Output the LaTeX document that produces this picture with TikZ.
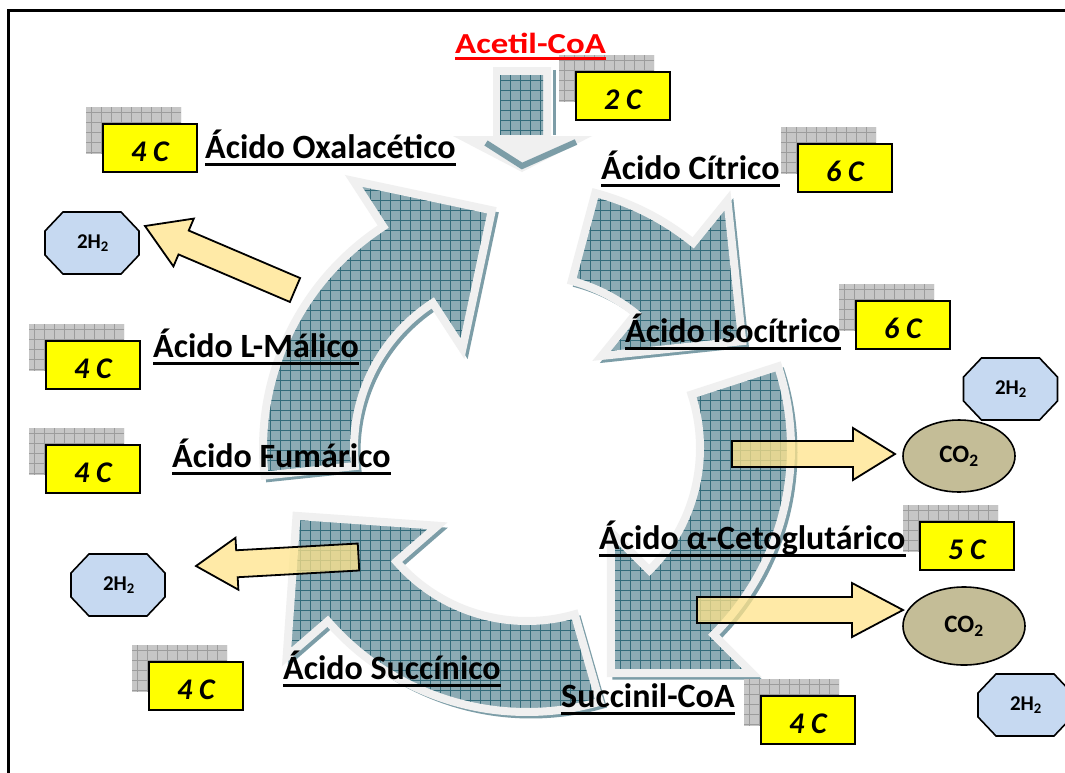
\documentclass[tikz,border=0pt]{standalone}
\usepackage{fontspec}
\setmainfont{Carlito}
\usepackage{graphicx}
\usetikzlibrary{calc,shapes.geometric}
\definecolor{tealbase}{HTML}{8DABB4}
\definecolor{tealline}{HTML}{336B7A}
\definecolor{tealshadow}{HTML}{7C9DA7}
\definecolor{rimgray}{HTML}{F0F0F0}
\definecolor{boxgray}{HTML}{C6C6C6}
\definecolor{boxline}{HTML}{9C9C9C}
\definecolor{octblue}{HTML}{C6D9F1}
\definecolor{coolive}{HTML}{C4BD97}
\definecolor{arrowyel}{HTML}{FFE48A}
\definecolor{acred}{HTML}{FF0000}
\definecolor{boxyel}{HTML}{FFFF00}
\newcommand\ccx{527}
\newcommand\ccy{448}
% circular arrow piece from angle #1 (tail) to #2 (head base), clockwise in picture
\newcommand\cycpath[2]{plot[domain=#1:#2,samples=60,variable=\t] ({\ccx+264*cos(\t)},{\ccy+264*sin(\t)}) -- ({\ccx+318.5*cos(#2)},{\ccy+318.5*sin(#2)}) -- ({\ccx+218.5*cos(#2)-100*sin(#2)},{\ccy+218.5*sin(#2)+100*cos(#2)}) -- ({\ccx+118.5*cos(#2)},{\ccy+118.5*sin(#2)}) -- ({\ccx+173*cos(#2)},{\ccy+173*sin(#2)}) -- plot[domain=#2:#1,samples=60,variable=\t] ({\ccx+173*cos(\t)},{\ccy+173*sin(\t)}) -- cycle}
\newcommand\tealgrid{\fill[tealbase] (200,60) rectangle (900,800);
  \foreach \g in {200,210,...,900} {\draw[gl] (\g,60) -- (\g,800);}
  \foreach \g in {60,70,...,800} {\draw[gl] (200,\g) -- (900,\g);}}
\newcommand\cycshadow[2]{\begin{scope}[shift={(4,4)}]
  \begin{scope}\clip \cycpath{#1}{#2}; \tealgrid \end{scope}
  \draw[shad] \cycpath{#1}{#2};\end{scope}}
\newcommand\cycmain[2]{\begin{scope}\clip \cycpath{#1}{#2}; \tealgrid \end{scope}
  \draw[rim] \cycpath{#1}{#2};}
\newcommand\graybox[2]{\begin{scope}\clip (#1,#2) rectangle ++(95,47);
  \fill[boxgray] (#1,#2) rectangle ++(95,47);
  \foreach \g in {5,15,...,95} {\draw[boxline,line width=0.8pt] ({#1+\g},#2) -- ++(0,47);}
  \foreach \g in {5,15,...,45} {\draw[boxline,line width=0.8pt] (#1,{#2+\g}) -- ++(95,0);}
  \end{scope}}
\newcommand\octa[2]{\filldraw[octa] ({#1+18},#2) -- ++(58,0) -- ++(18,19) -- ++(0,24) -- ++(-18,19) -- ++(-58,0) -- ++(-18,-19) -- ++(0,-24) -- cycle;}
\newcommand\blockarr[5]{\coordinate (bab) at ($(#2)!#3pt!(#1)$);
  \filldraw[yarr] ($(#1)!#4pt!90:(#2)$) -- ($(bab)!#4pt!90:(#2)$) -- ($(bab)!#5pt!90:(#2)$) -- (#2) -- ($(bab)!#5pt!-90:(#2)$) -- ($(bab)!#4pt!-90:(#2)$) -- ($(#1)!#4pt!-90:(#2)$) -- cycle;}
\begin{document}
\begin{tikzpicture}[x=1pt,y=-1pt,
  rim/.style={draw=rimgray, line width=8pt, line join=miter},
  shad/.style={draw=tealshadow, line width=5pt, line join=miter},
  gl/.style={draw=tealline, line width=0.9pt},
  yarr/.style={fill=arrowyel, fill opacity=0.75, draw=black, line width=1.8pt, line join=miter},
  octa/.style={fill=octblue, draw=black, line width=1.6pt},
  htxt/.style={font=\fontsize{21}{24}\selectfont\bfseries, inner sep=0pt},
  co2/.style={ellipse, fill=coolive, draw=black, line width=1.6pt, font=\fontsize{25}{28}\selectfont\bfseries, inner sep=0pt},
  ybox/.style={draw=black, line width=1.8pt, fill=boxyel, minimum width=94pt, minimum height=48pt, inner sep=0pt, text height=28pt, text depth=0pt, anchor=north west, font=\fontsize{30}{32}\selectfont\bfseries\itshape},
  lbl/.style={font=\fontsize{34}{40}\selectfont\bfseries, inner sep=0pt, anchor=base west},
  ul/.style={line width=3.8pt, black}]
\clip (0,0) rectangle (1065,772);
\fill[white] (0,0) rectangle (1065,772);
% frame
\draw[line width=2.2pt] (8.5,800) -- (8.5,10.5) -- (1100,10.5);
% cycle
\cycshadow{174}{237}
\cycshadow{285}{309}
\cycshadow{342}{405}
\cycshadow{74}{139}
\cycmain{174}{237}
\cycmain{285}{309}
\cycmain{342}{405}
\cycmain{74}{139}
% acetil-CoA down arrow
\fill[rimgray] (493,67) -- (551,67) -- (551,136) -- (592,136) -- (522,172) -- (453,136) -- (493,136) -- cycle;
\begin{scope}\clip (500,75) rectangle (543,134); \tealgrid \end{scope}
\draw[tealshadow, line width=6pt, line join=miter] (486,143) -- (522,166) -- (576,142);
\draw[tealshadow, line width=3pt] (554,70) -- (554,135);
% yellow arrows
\coordinate (a1t) at (295,290); \coordinate (a1p) at (145,226);
\coordinate (a2t) at (358.5,557); \coordinate (a2p) at (196,566);
\coordinate (a3t) at (732,454); \coordinate (a3p) at (895,454);
\coordinate (a4t) at (697,610); \coordinate (a4p) at (903,610);
\blockarr{a1t}{a1p}{42}{13}{26}
\blockarr{a2t}{a2p}{41}{13.5}{26}
\blockarr{a3t}{a3p}{42}{13}{26}
\blockarr{a4t}{a4p}{51}{13}{27}
% octagons 2H2
\octa{45}{212}   \node[htxt] (h1) at (93,243) {2H\textsubscript{2}};
\octa{963.5}{358} \node[htxt] (h2) at (1011,389) {2H\textsubscript{2}};
\octa{71}{554}   \node[htxt] (h3) at (119,585) {2H\textsubscript{2}};
\octa{978}{674}  \node[htxt] (h4) at (1026,705) {2H\textsubscript{2}};
% CO2
\node[co2, minimum width=112pt, minimum height=72pt] (e1) at (959,456) {CO\textsubscript{2}};
\node[co2, minimum width=122pt, minimum height=78pt] (e2) at (964,626) {CO\textsubscript{2}};
% carbon boxes
\graybox{559}{55}  \node[ybox] (c1) at (575,71) {2 C};
\graybox{86}{107}  \node[ybox] (c2) at (102,123) {4 C};
\graybox{781}{127} \node[ybox] (c3) at (797,143) {6 C};
\graybox{839}{284} \node[ybox] (c4) at (855,300) {6 C};
\graybox{29}{324}  \node[ybox] (c5) at (45,340) {4 C};
\graybox{29}{428}  \node[ybox] (c6) at (45,444) {4 C};
\graybox{903}{505} \node[ybox] (c7) at (919,521) {5 C};
\graybox{132}{645} \node[ybox] (c8) at (148,661) {4 C};
\graybox{744}{679} \node[ybox] (c9) at (760,695) {4 C};
% labels
\node[lbl, text=acred] (acoa) at (455,53) {\scalebox{1.2}[1]{\fontsize{29}{34}\selectfont Acetil-CoA}};
\draw[line width=3pt, acred] ([yshift=-5.5pt]acoa.base west) -- ([yshift=-5.5pt]acoa.base east);
\node[lbl] (oxa) at (205,158) {Ácido Oxalacético};
\node[lbl] (cit) at (601,179) {Ácido Cítrico};
\node[lbl] (iso) at (625,342) {Ácido Isocítrico};
\node[lbl] (mal) at (153,357) {Ácido L-Málico};
\node[lbl] (fum) at (172,467) {Ácido Fumárico};
\node[lbl] (ceto) at (599,549) {Ácido α-Cetoglutárico};
\node[lbl] (suc) at (283,679) {Ácido Succínico};
\node[lbl] (scoa) at (561,707) {Succinil-CoA};
\foreach \n in {oxa,cit,iso,mal,fum,ceto,suc,scoa}
  {\draw[ul] ([yshift=-6.5pt]\n.base west) -- ([yshift=-6.5pt]\n.base east);}
\end{tikzpicture}
\end{document}
